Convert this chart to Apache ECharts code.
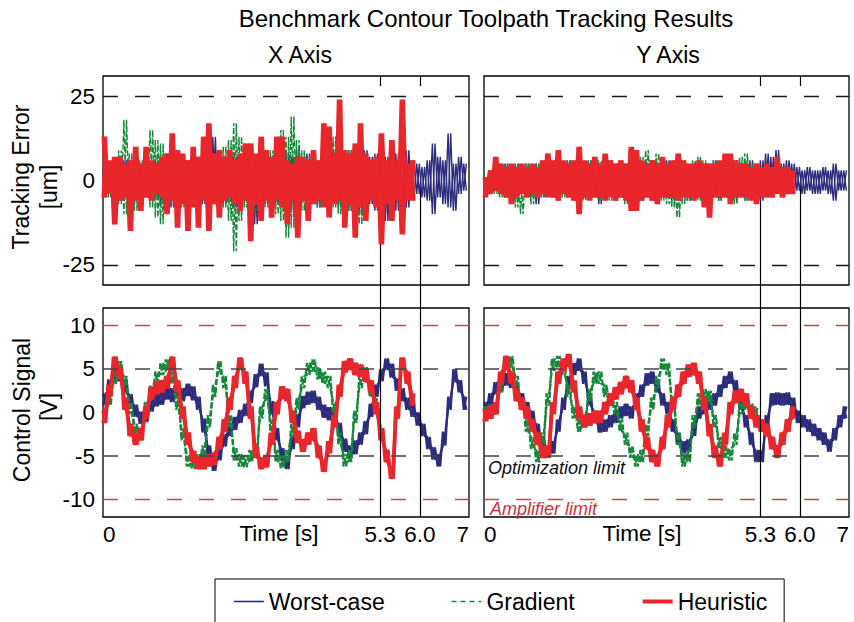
<!DOCTYPE html>
<html><head><meta charset="utf-8">
<script src="https://cdn.jsdelivr.net/npm/echarts@6.0.0/dist/echarts.min.js"></script>
<style>html,body{margin:0;padding:0;background:#fff}#c{width:854px;height:622px}</style>
</head><body><div id="c"></div>
<script>
// ---------- DATA ----------
// each series is stored as band upper/lower readings at 0.1 s steps
const STEP = 0.1;
const seriesNames = ['Worst-case', 'Gradient', 'Heuristic'];
const markTimes = [5.3, 6.06];
const timeTickValues = [0, 5.3, 6.06, 7];
const timeTickLabels = ['0', '5.3', '6.0', '7'];
const errTicks = [-25, 0, 25];
const sigTicks = [-10, -5, 0, 5, 10];
const errLimits = [25, -25];
const optLimits = [5, -5];
const ampLimits = [10, -10];

// Tracking error, X axis [um]
const errX_worstHi = [3,5,6,4,6,5,7,5,6,4, 6,5,8,6,9,7,6,8,7,9, 6,13,9,6,8,7,6,9,8,7, 12,8,7,10,6,8,7,9,6,8, 7,6,9,8,7,10,7,9,8,14, 9,7,8,10,7,9,8,7,9,6, 5,4,6,11,7,6,14,5,7,5];
const errX_worstLo = [-5,-3,-9,-6,-5,-6,-4,-7,-5,-6, -5,-7,-6,-8,-12,-6,-8,-6,-9,-7, -8,-6,-10,-7,-6,-8,-7,-6,-10,-13, -8,-7,-9,-7,-8,-6,-9,-7,-6,-10, -7,-8,-6,-9,-7,-8,-6,-9,-7,-10, -8,-7,-9,-8,-12,-7,-9,-6,-8,-5, -4,-5,-6,-10,-5,-7,-8,-9,-4,-3];
const errX_gradHi = [4,5,6,9,18,8,10,6,7,15, 12,11,8,6,7,5,6,8,7,6, 9,7,8,10,12,17,13,8,7,6, 8,7,9,10,15,13,19,12,9,7, 8,6,7,9,13,8,7,9,8,6, 7,6,7];
const errX_gradLo = [-4,-5,-6,-7,-10,-7,-9,-6,-5,-8, -11,-13,-9,-7,-6,-8,-6,-7,-9,-6, -8,-7,-10,-8,-12,-21,-12,-8,-7,-9, -6,-8,-7,-10,-12,-17,-14,-11,-9,-7, -6,-8,-7,-9,-8,-10,-7,-9,-8,-13, -8,-6,-7];
const errX_heurHi = [13,6,7,7,5,6,10,5,10,6, 5,7,8,14,9,8,6,10,7,13, 17,8,9,7,9,6,8,11,11,8, 13,9,7,13,13,6,5,7,7,6, 9,6,17,16,8,24,9,8,11,17, 8,6,7,14,6,12,6,24,5,6];
const errX_heurLo = [-5,-4,-13,-6,-5,-15,-6,-9,-5,-6, -4,-5,-10,-6,-14,-7,-15,-8,-14,-6, -15,-7,-11,-6,-5,-7,-9,-6,-18,-7, -12,-6,-11,-6,-8,-13,-6,-17,-6,-12, -7,-6,-8,-11,-7,-6,-14,-7,-17,-8, -12,-6,-8,-19,-7,-12,-6,-16,-6,-6];

// Tracking error, Y axis [um]
const errY_worstHi = [1,3,5,4,5,4,5,4,5,4, 5,5,6,5,4,5,6,5,4,5, 6,5,4,5,6,5,4,5,6,5, 4,5,6,5,5,6,5,6,5,4, 5,6,5,5,6,5,6,5,6,5, 5,6,5,6,8,7,9,5,6,5, 4,3,4,3,3,4,3,5,3,3];
const errY_worstLo = [-3,-4,-3,-4,-5,-4,-5,-4,-5,-5, -7,-5,-4,-5,-5,-4,-5,-5,-6,-4, -5,-5,-7,-5,-4,-6,-5,-5,-6,-5, -6,-5,-5,-6,-5,-5,-6,-5,-5,-6, -5,-5,-6,-5,-5,-6,-5,-5,-6,-5, -6,-5,-6,-6,-5,-5,-4,-5,-4,-4, -3,-4,-3,-4,-4,-3,-4,-6,-3,-3];
const errY_gradHi = [1,3,6,5,5,4,5,4,5,4, 5,6,8,6,5,5,6,5,6,5, 6,5,6,5,6,5,6,5,6,6, 7,9,6,8,6,5,6,5,6,5, 6,7,6,5,6,5,6,5,6,7, 8,5,4];
const errY_gradLo = [-3,-4,-4,-5,-5,-6,-8,-10,-5,-7, -5,-5,-4,-5,-6,-5,-5,-6,-5,-6, -5,-5,-6,-5,-6,-5,-5,-7,-6,-5, -6,-5,-6,-5,-6,-7,-8,-11,-7,-6, -5,-6,-5,-6,-5,-6,-5,-6,-7,-5, -6,-5,-4];
const errY_heurHi = [1,3,7,5,4,5,4,5,4,5, 4,6,8,6,9,6,5,6,10,6, 5,7,5,8,6,5,6,5,10,9, 6,5,6,5,7,5,6,8,6,5, 5,6,5,5,5,6,8,8,6,5, 5,4,5,4,5,4,7,4,4,3];
const errY_heurLo = [-5,-4,-3,-4,-5,-7,-5,-4,-5,-4, -5,-4,-5,-5,-6,-4,-5,-6,-10,-5, -6,-5,-5,-6,-5,-6,-5,-6,-9,-9, -6,-5,-6,-7,-5,-5,-5,-6,-5,-5, -6,-5,-8,-11,-5,-5,-5,-7,-5,-5, -5,-6,-7,-5,-5,-5,-4,-5,-4,-4];

// Control signal, X axis [V]
const sigX_worstHi = [2.2,3.8,4.9,5.0,3.8,2.1,0.9,0.1,0.5,1.5, 2.1,2.4,2.9,2.8,3.1,2.8,3.3,3.0,1.8,-0.7, -3.8,-5.3,-4.0,-2.5,-1.2,-0.5,0.3,1.0,2.5,4.4, 5.6,4.6,1.3,-1.8,-4.1,-5.0,-2.7,-0.2,1.9,2.4, 2.5,1.8,0.9,0.6,0.2,-1.2,-3.0,-3.8,-3.2,-2.3, -1.0,1.0,3.2,5.0,6.2,5.6,3.9,2.8,1.7,1.0, 0.0,-1.3,-2.8,-4.0,-4.8,-2.2,1.8,5.0,3.7,1.8];
const sigX_worstLo = [0.8,2.3,3.5,3.6,2.2,0.8,-0.5,-1.3,-1.1,0.1, 0.7,0.9,1.5,1.2,1.7,1.3,1.9,1.4,0.3,-2.3, -5.2,-6.7,-5.5,-3.9,-2.7,-2.0,-1.2,-0.4,1.1,2.9, 4.2,3.0,-0.3,-3.2,-5.5,-6.5,-4.2,-1.7,0.5,0.9, 1.1,0.3,-0.6,-0.9,-1.2,-2.8,-4.5,-5.2,-4.8,-3.7, -2.5,-0.5,1.8,3.6,4.9,4.0,2.5,1.3,0.3,-0.5, -1.5,-2.7,-4.2,-5.4,-6.2,-3.8,0.3,3.5,2.3,0.3];
const sigX_gradHi = [0.2,2.2,4.7,5.9,4.2,1.2,-1.3,-1.8,1.2,3.2, 4.7,5.7,6.1,4.7,1.7,-1.8,-4.8,-5.1,-4.8,-3.8, -0.3,3.2,5.9,4.2,-0.3,-4.1,-4.8,-4.9,-4.3,-3.8, 0.7,2.7,-0.8,-4.3,-5.0,-4.3,-1.3,1.7,4.2,5.7, 6.1,5.2,4.7,4.2,1.2,-2.3,-4.8,-4.3,0.2,4.2, 5.2,3.2,1.9];
const sigX_gradLo = [-1.2,0.8,3.3,4.5,2.8,-0.2,-2.7,-3.2,-0.2,1.8, 3.3,4.3,4.7,3.3,0.3,-3.2,-6.2,-6.5,-6.2,-5.2, -1.7,1.8,4.5,2.8,-1.7,-5.5,-6.2,-6.3,-5.7,-5.2, -0.7,1.3,-2.2,-5.7,-6.4,-5.7,-2.7,0.3,2.8,4.3, 4.7,3.8,3.3,2.8,-0.2,-3.7,-6.2,-5.7,-1.2,2.8, 3.8,1.8,0.5];
const sigX_heurHi = [0.2,3.2,6.4,5.2,1.7,-1.3,-2.4,-1.8,0.7,2.9, 3.5,3.7,4.2,6.4,3.7,0.7,-2.3,-4.4,-5.1,-5.1, -4.8,-4.6,-2.8,-0.8,1.7,4.2,6.3,4.7,0.7,-3.8, -5.2,-4.9,-2.3,1.2,3.0,2.7,0.2,-2.1,-3.1,-2.3, -1.8,-3.8,-5.6,-3.3,-0.3,3.2,5.9,6.2,5.7,5.5, 4.9,3.7,1.2,-1.8,-4.3,-6.5,0.7,6.3,4.7,2.2];
const sigX_heurLo = [-1.2,1.8,5.1,3.8,0.3,-2.7,-3.7,-3.2,-0.7,1.5, 2.1,2.3,2.8,5.1,2.3,-0.7,-3.7,-5.7,-6.5,-6.5, -6.2,-6.0,-4.2,-2.2,0.3,2.8,5.1,3.3,-0.7,-5.2, -6.5,-6.3,-3.7,-0.2,1.6,1.3,-1.2,-3.5,-4.5,-3.7, -3.2,-5.2,-6.8,-4.7,-1.7,1.8,4.6,4.9,4.3,4.1, 3.5,2.3,-0.2,-3.2,-5.7,-7.6,-0.7,5.1,3.3,0.8];

// Control signal, Y axis [V]
const sigY_worstHi = [1.2,2.2,3.5,3.9,4.5,4.2,3.2,2.2,1.2,0.2, -1.3,-2.8,-3.8,-3.3,-0.8,1.7,4.2,5.7,6.2,4.7, 2.2,0.2,-0.9,-0.8,-0.3,0.2,0.7,1.0,0.7,2.2, 3.2,4.5,4.7,3.7,2.2,1.2,-0.8,-2.3,-3.3,-3.1, -1.3,0.7,1.2,1.7,2.2,3.2,4.2,4.7,3.7,1.7, -0.3,-2.3,-4.3,-4.3,-0.3,2.2,2.3,2.2,2.3,1.7, 0.2,-0.3,-0.8,-1.3,-1.8,-2.3,-3.1,-1.8,-0.3,0.7];
const sigY_worstLo = [-0.2,0.8,2.1,2.5,3.1,2.8,1.8,0.8,-0.2,-1.2, -2.7,-4.2,-5.2,-4.7,-2.2,0.3,2.8,4.3,4.8,3.3, 0.8,-1.2,-2.3,-2.2,-1.7,-1.2,-0.7,-0.4,-0.7,0.8, 1.8,3.1,3.3,2.3,0.8,-0.2,-2.2,-3.7,-4.7,-4.5, -2.7,-0.7,-0.2,0.3,0.8,1.8,2.8,3.3,2.3,0.3, -1.7,-3.7,-5.7,-5.7,-1.7,0.8,0.9,0.8,0.9,0.3, -1.2,-1.7,-2.2,-2.7,-3.2,-3.7,-4.5,-3.2,-1.7,-0.7];
const sigY_gradHi = [0.7,0.9,1.2,3.7,6.2,6.5,4.2,1.7,-0.8,-2.8, -4.3,-2.3,2.2,6.2,6.5,5.7,3.2,0.7,-0.8,-0.3, 2.7,4.7,4.7,3.2,2.2,1.2,-0.8,-2.3,-3.8,-4.8, -4.3,-1.3,1.7,4.2,6.2,5.7,1.7,-2.3,-4.8,-4.3, -0.3,2.2,2.7,2.5,-0.3,-2.8,-3.8,-4.1,-2.3,1.2, 1.7,1.0,0.7];
const sigY_gradLo = [-0.7,-0.5,-0.2,2.3,4.8,5.1,2.8,0.3,-2.2,-4.2, -5.7,-3.7,0.8,4.8,5.1,4.3,1.8,-0.7,-2.2,-1.7, 1.3,3.3,3.3,1.8,0.8,-0.2,-2.2,-3.7,-5.2,-6.2, -5.7,-2.7,0.3,2.8,4.8,4.3,0.3,-3.7,-6.2,-5.7, -1.7,0.8,1.3,1.1,-1.7,-4.2,-5.2,-5.5,-3.7,-0.2, 0.3,-0.4,-0.7];
const sigY_heurHi = [0.4,0.7,1.2,4.7,6.5,4.7,2.7,1.7,0.7,-0.8, -2.3,-3.8,-3.8,1.2,4.7,6.2,6.7,3.7,0.7,-0.3, -0.1,0.2,0.2,1.2,2.2,2.9,3.5,4.2,3.7,1.7, -0.8,-2.8,-4.3,-4.8,-2.8,-0.3,1.7,3.2,4.7,5.5, 5.7,4.7,1.7,-1.3,-3.8,-4.8,-2.3,1.2,2.5,2.7, 2.2,0.7,-0.3,-0.8,-1.3,-2.8,-3.8,-2.3,-0.8,0.7];
const sigY_heurLo = [-1.0,-0.7,-0.2,3.3,5.1,3.3,1.3,0.3,-0.7,-2.2, -3.7,-5.2,-5.2,-0.2,3.3,4.8,5.3,2.3,-0.7,-1.7, -1.5,-1.2,-1.2,-0.2,0.8,1.5,2.1,2.8,2.3,0.3, -2.2,-4.2,-5.7,-6.2,-4.2,-1.7,0.3,1.8,3.3,4.1, 4.3,3.3,0.3,-2.7,-5.2,-6.2,-3.7,-0.2,1.1,1.3, 0.8,-0.7,-1.7,-2.2,-2.7,-4.2,-5.2,-3.7,-2.2,-0.7];

// ---------- STYLE ----------
const FONT = '"Liberation Sans", Arial, Helvetica, sans-serif';
const BLUE = '#2c2c7c', GREEN = '#16883c', RED = '#e8262b';

// trace of a band: one reading at t, the other half a step later (drawn both ways)
function zig(a, b) {
  const d = [];
  for (let k = 0; k < a.length; k++) {
    d.push([Math.round(k * STEP * 100) / 100, a[k]]);
    d.push([Math.round((k * STEP + STEP / 2) * 100) / 100, b[k]]);
  }
  return d;
}

const panels = [
  {w: [errX_worstHi, errX_worstLo], g: [errX_gradHi, errX_gradLo], h: [errX_heurHi, errX_heurLo], kind: 'err'},
  {w: [errY_worstHi, errY_worstLo], g: [errY_gradHi, errY_gradLo], h: [errY_heurHi, errY_heurLo], kind: 'err'},
  {w: [sigX_worstHi, sigX_worstLo], g: [sigX_gradHi, sigX_gradLo], h: [sigX_heurHi, sigX_heurLo], kind: 'sig'},
  {w: [sigY_worstHi, sigY_worstLo], g: [sigY_gradHi, sigY_gradLo], h: [sigY_heurHi, sigY_heurLo], kind: 'sig'}
];

const grids = [
  {left: 103, top: 76, width: 366, height: 209},
  {left: 484, top: 76, width: 365, height: 209},
  {left: 103, top: 308, width: 366, height: 209},
  {left: 484, top: 308, width: 365, height: 209}
].map(g => Object.assign({show: true, borderColor: '#000', borderWidth: 1.3, backgroundColor: '#fff'}, g));

const xAxes = grids.map((g, i) => ({
  gridIndex: i, type: 'value', min: 0, max: 7,
  axisLine: {show: false}, axisTick: {show: false}, splitLine: {show: false},
  axisLabel: {
    show: i >= 2, customValues: timeTickValues, margin: 6,
    alignMinLabel: 'left', alignMaxLabel: 'right',
    fontSize: 22.5, fontFamily: FONT, color: '#000',
    formatter: v => { const k = timeTickValues.findIndex(t => Math.abs(t - v) < 1e-6); return k >= 0 ? timeTickLabels[k] : ''; }
  }
}));

const yAxes = grids.map((g, i) => {
  const err = i < 2;
  return {
    gridIndex: i, type: 'value', min: err ? -31 : -12, max: err ? 31 : 12,
    axisLine: {show: false}, axisTick: {show: false}, splitLine: {show: false},
    axisLabel: {show: i % 2 === 0, customValues: err ? errTicks : sigTicks, margin: 8,
      fontSize: 22.5, fontFamily: FONT, color: '#000'}
  };
});

function markLinesFor(kind) {
  const dash = [15, 17];
  if (kind === 'err') {
    return errLimits.map(v => ({yAxis: v, lineStyle: {color: '#1a1a1a', width: 1.3, type: dash}}));
  }
  return ampLimits.map(v => ({yAxis: v, lineStyle: {color: '#c8474a', width: 1.3, type: dash}}))
    .concat(optLimits.map(v => ({yAxis: v, lineStyle: {color: '#444', width: 1.5, type: dash}})));
}

// line widths: [error panels, control-signal panels]
const styles = [
  {color: BLUE, width: [1.4, 2.2], type: 'solid', z: 2},
  {color: GREEN, width: [1.4, 2.2], type: [6, 2], z: 3},
  {color: RED, width: [3, 3.6], type: 'solid', z: 4}
];

const series = [];
panels.forEach((p, i) => {
  const wi = p.kind === 'err' ? 0 : 1;
  [p.w, p.g, p.h].forEach((band, s) => {
    const st = styles[s];
    [zig(band[0], band[1]), zig(band[1], band[0])].forEach((data, pass) => {
      const ser = {
        type: 'line', name: seriesNames[s], xAxisIndex: i, yAxisIndex: i, data: data,
        symbol: 'none', showSymbol: false, animation: false, silent: true, clip: true,
        emphasis: {disabled: true}, color: st.color, z: st.z,
        itemStyle: {opacity: 0},
        lineStyle: {color: st.color, width: st.width[wi], type: st.type}
      };
      if (s === 2 && pass === 1) {
        ser.markLine = {silent: true, symbol: ['none', 'none'], label: {show: false}, animation: false,
          emphasis: {disabled: true}, data: markLinesFor(p.kind)};
      }
      series.push(ser);
    });
  });
});

const chart = echarts.init(document.getElementById('c'), null, {renderer: 'svg'});
chart.setOption({
  animation: false,
  backgroundColor: '#fff',
  grid: grids, xAxis: xAxes, yAxis: yAxes, series: series,
  legend: {
    data: [
      {name: seriesNames[0], lineStyle: {width: 1.6}},
      {name: seriesNames[1], lineStyle: {width: 1.6, type: [5, 4]}},
      {name: seriesNames[2], lineStyle: {width: 4}}
    ],
    left: 215, top: 579, orient: 'horizontal',
    padding: [11, 17, 40, 18], itemGap: 66, itemWidth: 30, itemHeight: 14,
    borderColor: '#000', borderWidth: 1, backgroundColor: '#fff',
    itemStyle: {opacity: 0},
    textStyle: {fontSize: 23, fontFamily: FONT, color: '#000'}
  }
});

// ---------- annotations / connecting lines ----------
const gfx = [];
function txt(text, x, y, size, opts) {
  gfx.push(Object.assign({type: 'text', x: x, y: y, z: 100,
    style: Object.assign({text: text, font: size + 'px ' + FONT, fill: '#000', textAlign: 'center', textVerticalAlign: 'middle'}, (opts && opts.style) || {})},
    (opts && opts.el) || {}));
}
txt('Benchmark Contour Toolpath Tracking Results', 486, 18, 24);
txt('X Axis', 300, 55, 23);
txt('Y Axis', 668, 55, 23);
txt('Tracking Error', 21, 177, 23, {el: {rotation: Math.PI / 2}});
txt('[um]', 49, 187, 23, {el: {rotation: Math.PI / 2}});
txt('Control Signal', 22, 410, 23, {el: {rotation: Math.PI / 2}});
txt('[V]', 49, 407, 23, {el: {rotation: Math.PI / 2}});
txt('Time [s]', 279, 533, 22.5);
txt('Time [s]', 642, 533, 22.5);
const annY1 = chart.convertToPixel({yAxisIndex: 3}, -5);
const annY2 = chart.convertToPixel({yAxisIndex: 3}, -10);
const annX = chart.convertToPixel({xAxisIndex: 3}, 0);
txt('Optimization limit', annX + 4, annY1 + 12, 18, {style: {textAlign: 'left', font: 'italic 18px ' + FONT, fill: '#111'}});
txt('Amplifier limit', annX + 6, annY2 + 9, 18, {style: {textAlign: 'left', font: 'italic 18px ' + FONT, fill: '#d0303a'}});

[0, 1].forEach(p => {
  const yZero = chart.convertToPixel({yAxisIndex: p}, 0);
  const yTopEdge = chart.convertToPixel({yAxisIndex: p}, 31);
  const yTopBottom = chart.convertToPixel({yAxisIndex: p}, -31);
  const yBotBottom = chart.convertToPixel({yAxisIndex: p + 2}, -12);
  markTimes.forEach(t => {
    const x = Math.round(chart.convertToPixel({xAxisIndex: p}, t)) + 0.5;
    gfx.push({type: 'line', z: 1, shape: {x1: x, y1: yZero, x2: x, y2: yTopBottom}, style: {stroke: '#000', lineWidth: 1.2}});
    gfx.push({type: 'line', z: 100, shape: {x1: x, y1: yTopBottom, x2: x, y2: yBotBottom}, style: {stroke: '#000', lineWidth: 1.2}});
    gfx.push({type: 'line', z: 100, shape: {x1: x, y1: yTopEdge, x2: x, y2: yTopEdge + 10}, style: {stroke: '#000', lineWidth: 1.2}});
  });
});
chart.setOption({graphic: gfx});
</script></body></html>
